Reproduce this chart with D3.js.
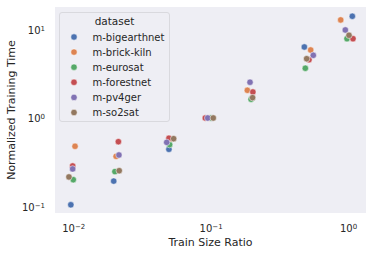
<!DOCTYPE html>
<html>
<head>
<meta charset="utf-8">
<script src="https://cdn.jsdelivr.net/npm/d3@7"></script>
<style>
  body { margin: 0; background: #fff; }
  text { font-family: "DejaVu Sans", sans-serif; fill: #262626; }
</style>
</head>
<body>
<svg id="chart" width="374" height="255"></svg>
<script>
// datasets and their colours (seaborn "deep")
const datasets = ["m-bigearthnet", "m-brick-kiln", "m-eurosat", "m-forestnet", "m-pv4ger", "m-so2sat"];
const colors = ["#4C72B0", "#DD8452", "#55A868", "#C44E52", "#8172B3", "#937860"];

// train size ratio (with the jitter seen in the plot) per dataset
const xBigearthnet = [0.0096, 0.0197, 0.0497, 0.102, 0.200, 0.481, 1.075];
const xBrickKiln   = [0.0103, 0.0205, 0.0510, 0.098, 0.185, 0.535, 0.885];
const xEurosat     = [0.0100, 0.0201, 0.0503, 0.100, 0.197, 0.489, 0.983];
const xForestnet   = [0.0099, 0.0213, 0.0497, 0.0915, 0.203, 0.520, 1.087];
const xPv4ger      = [0.0099, 0.0215, 0.0479, 0.0952, 0.1935, 0.559, 0.956];
const xSo2sat      = [0.0093, 0.0216, 0.0538, 0.1045, 0.202, 0.500, 1.017];

// normalized training time per dataset
const yBigearthnet = [0.104, 0.193, 0.442, 1.0, 1.68, 6.37, 14.2];
const yBrickKiln   = [0.478, 0.368, 0.580, 1.0, 2.06, 5.89, 12.9];
const yEurosat     = [0.200, 0.247, 0.499, 1.0, 1.63, 3.66, 7.91];
const yForestnet   = [0.286, 0.539, 0.589, 1.0, 1.97, 4.57, 7.91];
const yPv4ger      = [0.265, 0.381, 0.530, 1.0, 2.54, 5.13, 9.93];
const ySo2sat      = [0.215, 0.253, 0.583, 1.0, 1.70, 4.69, 8.64];

const xSeries = [xBigearthnet, xBrickKiln, xEurosat, xForestnet, xPv4ger, xSo2sat];
const ySeries = [yBigearthnet, yBrickKiln, yEurosat, yForestnet, yPv4ger, ySo2sat];

const xTicks = [0.01, 0.1, 1];
const yTicks = [0.1, 1, 10];

const margin = {top: 7, right: 8, bottom: 42, left: 55};
const width = 374, height = 255;

const svg = d3.select("#chart");

let x = d3.scaleLog()
    .domain([Math.pow(10, -2.133), Math.pow(10, 0.131)])
    .range([margin.left, width - margin.right]);

let y = d3.scaleLog()
    .domain([Math.pow(10, -1.076), Math.pow(10, 1.257)])
    .range([height - margin.bottom, margin.top]);

// plot background
svg.append("rect")
    .attr("x", margin.left)
    .attr("y", margin.top)
    .attr("width", width - margin.left - margin.right)
    .attr("height", height - margin.top - margin.bottom)
    .attr("fill", "#EEEEF4");

// tick labels written as 10 with a superscript exponent
function powLabel(sel, v) {
    let e = Math.round(Math.log10(v));
    sel.append("tspan").text("10");
    sel.append("tspan")
        .attr("dy", "-0.45em")
        .style("font-size", "7px")
        .text(e < 0 ? "\u2212" + (-e) : e);
}

let xAxis = svg.append("g")
    .attr("transform", `translate(0,${height - margin.bottom})`)
    .call(d3.axisBottom(x).tickValues(xTicks).tickSize(0).tickFormat(""));
xAxis.select(".domain").remove();
xAxis.selectAll(".tick text").remove();
xAxis.selectAll(".tick").append("text")
    .attr("y", 19)
    .attr("text-anchor", "middle")
    .style("font-size", "10px")
    .each(function(d) { powLabel(d3.select(this), d); });

let yAxis = svg.append("g")
    .attr("transform", `translate(${margin.left},0)`)
    .call(d3.axisLeft(y).tickValues(yTicks).tickSize(0).tickFormat(""));
yAxis.select(".domain").remove();
yAxis.selectAll(".tick text").remove();
yAxis.selectAll(".tick").append("text")
    .attr("x", -10)
    .attr("y", 4)
    .attr("text-anchor", "end")
    .style("font-size", "10px")
    .each(function(d) { powLabel(d3.select(this), d); });

// axis titles
svg.append("text")
    .attr("x", (margin.left + width - margin.right) / 2)
    .attr("y", 246)
    .attr("text-anchor", "middle")
    .style("font-size", "11px")
    .text("Train Size Ratio");

svg.append("text")
    .attr("transform", `translate(15,${(margin.top + height - margin.bottom) / 2}) rotate(-90)`)
    .attr("text-anchor", "middle")
    .style("font-size", "11px")
    .text("Normalized Training Time");

// points
let points = [];
datasets.forEach(function(name, i) {
    xSeries[i].forEach(function(xv, k) {
        points.push({name: name, c: colors[i], x: xv, y: ySeries[i][k]});
    });
});

svg.append("g").selectAll("circle")
    .data(points)
    .enter()
    .append("circle")
    .attr("cx", function(d) { return x(d.x); })
    .attr("cy", function(d) { return y(d.y); })
    .attr("r", 3.2)
    .attr("fill", function(d) { return d.c; })
    .attr("stroke", "#fff")
    .attr("stroke-width", 0.5);

// legend
let legend = svg.append("g");
legend.append("rect")
    .attr("x", 59.5)
    .attr("y", 12.5)
    .attr("width", 110)
    .attr("height", 109)
    .attr("rx", 2.5)
    .attr("fill", "#EEEEF4")
    .attr("fill-opacity", 0.8)
    .attr("stroke", "#d3d3d8")
    .attr("stroke-width", 0.8);

legend.append("text")
    .attr("x", 114.5)
    .attr("y", 25)
    .attr("text-anchor", "middle")
    .style("font-size", "10.5px")
    .text("dataset");

let items = legend.selectAll("g.item")
    .data(datasets)
    .enter()
    .append("g")
    .attr("class", "item")
    .attr("transform", function(d, i) { return `translate(74,${37 + i * 15.1})`; });

items.append("circle")
    .attr("r", 3.2)
    .attr("fill", function(d, i) { return colors[i]; })
    .attr("stroke", "#fff")
    .attr("stroke-width", 0.5);

items.append("text")
    .attr("x", 18.5)
    .attr("y", 3.6)
    .style("font-size", "10px")
    .text(function(d) { return d; });
</script>
</body>
</html>
